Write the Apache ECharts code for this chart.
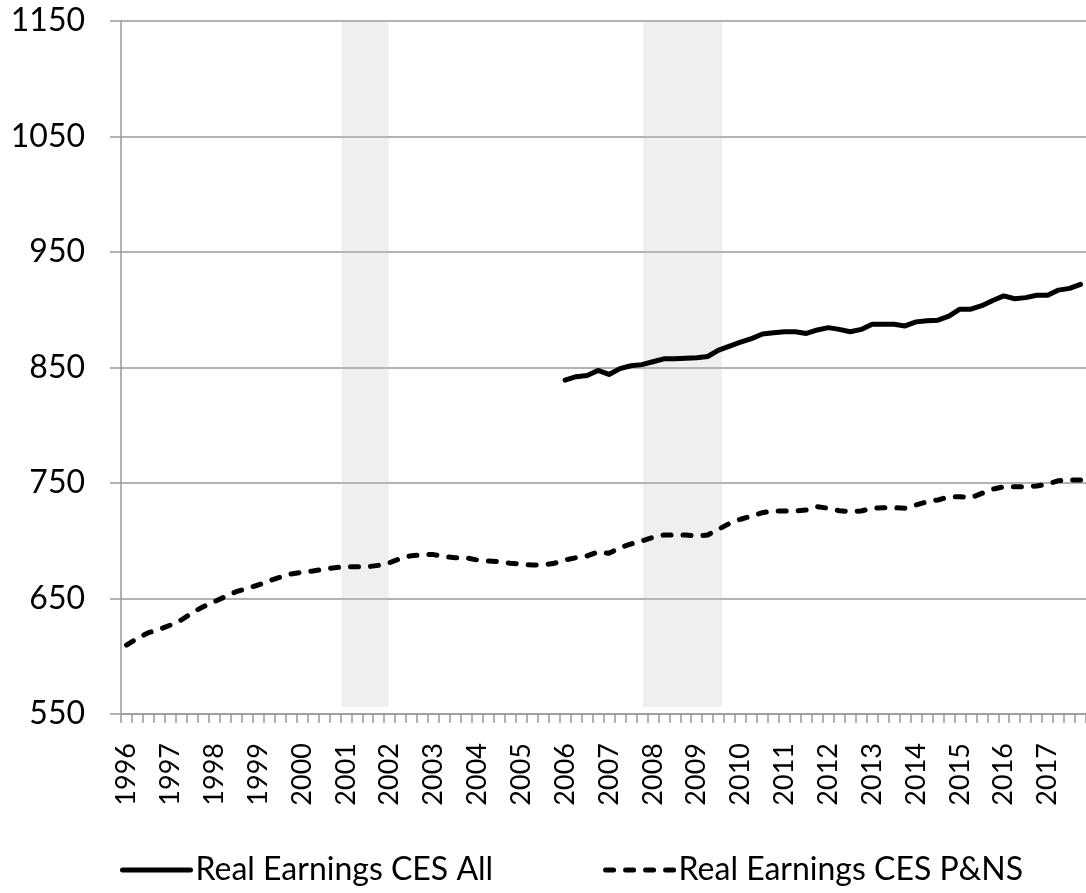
<!DOCTYPE html>
<html>
<head>
<meta charset="utf-8">
<script src="https://cdn.jsdelivr.net/npm/echarts@6/dist/echarts.min.js"></script>
<style>
html,body{margin:0;padding:0;background:#fff;}
#chart{width:1086px;height:893px;}
</style>
</head>
<body>
<div id="chart"></div>
<script>
// Years shown on the category axis (quarterly categories)
const years = [1996,1997,1998,1999,2000,2001,2002,2003,2004,2005,2006,2007,2008,2009,2010,2011,2012,2013,2014,2015,2016,2017];
const quarters = ['Q1','Q2','Q3','Q4'];
const categories = [];
years.forEach(y => quarters.forEach(q => categories.push(y + q)));

// Real Earnings CES All (starts 2006Q1)
const cesAllStart = '2006Q1';
const cesAllValues = [
  839, 842, 843, 847.5, 844, 849, 851.5, 852.5,
  855, 857.5, 857.5, 858, 858.5, 859.5, 865, 868.5,
  872, 875, 879, 880, 881, 881, 879.5, 882.5,
  884.5, 883, 881, 883, 887.5, 887.5, 887.5, 886,
  889.5, 890.5, 891, 894.5, 900.5, 900.5, 903.5, 908,
  912, 909.5, 910.5, 912.5, 912.5, 917, 918.5, 922
];

// Real Earnings CES P&NS (1996Q1 onward)
const cesPnsValues = [
  609.7, 615.5, 620.4, 623.3, 627, 631.4, 637.7, 642.9,
  647.2, 651.6, 655.9, 658.8, 661.7, 665.2, 668.4, 671.2,
  672.7, 673.8, 675.3, 676.7, 677.5, 677.5, 677.5, 678.7,
  681, 684.8, 687.1, 688, 688, 686.2, 685.3, 685.3,
  683.3, 682.5, 681.9, 680.5, 679.6, 679, 679, 680.5,
  683.3, 685.3, 686.8, 690.5, 689.1, 694, 697.2, 699.8,
  703, 705, 705, 705, 704.1, 705, 709.9, 715.1,
  718.6, 721.4, 724.3, 725.8, 725.8, 725.8, 726.6, 729.5,
  728.1, 726, 725.2, 725.8, 728.1, 728.6, 728.6, 728.1,
  731, 733.8, 735.3, 738.1, 738.1, 737.3, 741, 744.6,
  746.8, 746.8, 746.8, 747.4, 749.1, 752, 752.6, 752.6
];

// Recession shading, in fractional years [start, end]
const recessions = [[2001.03, 2002.1], [2007.9, 2009.7]];
const shadeBottom = 556;

// Y-axis
const yMin = 550, yMax = 1150, yStep = 100;

const startIdx = categories.indexOf(cesAllStart);
const cesAllSeries = categories.map((c, i) => i >= startIdx ? cesAllValues[i - startIdx] : null);

const chart = echarts.init(document.getElementById('chart'), null, {renderer: 'canvas'});
chart.setOption({
  animation: false,
  backgroundColor: '#ffffff',
  grid: {left: 121, right: -8, top: 21, bottom: 179, containLabel: false},
  legend: {
    left: 115, top: 849,
    itemWidth: 68, itemHeight: 5, itemGap: 110,
    itemStyle: {color: 'rgba(0,0,0,0)', borderWidth: 0},
    lineStyle: {width: 5, color: '#000'},
    textStyle: {fontFamily: 'Lato', fontSize: 32, color: '#000'},
    data: ['Real Earnings CES All', 'Real Earnings CES P&NS']
  },
  xAxis: [{
    type: 'category',
    data: categories,
    boundaryGap: true,
    axisLine: {lineStyle: {color: '#999', width: 1.5}},
    axisTick: {show: true, interval: 0, length: 9, lineStyle: {color: '#999', width: 1.5}},
    axisLabel: {
      interval: 3, rotate: 90, margin: 29,
      fontFamily: 'Lato', fontSize: 27, color: '#000',
      formatter: v => v.slice(0, 4)
    },
    splitLine: {show: false}
  }, {
    type: 'value',
    min: years[0],
    max: years[years.length - 1] + 1,
    show: false
  }],
  yAxis: {
    type: 'value',
    min: yMin, max: yMax, interval: yStep,
    axisLine: {show: true, lineStyle: {color: '#999', width: 1.5}},
    axisTick: {show: true, length: 11, lineStyle: {color: '#999', width: 1.5}},
    axisLabel: {margin: 36, fontFamily: 'Lato', fontSize: 32, color: '#000', formatter: v => String(v)},
    splitLine: {show: true, lineStyle: {color: '#999', width: 1.5}}
  },
  series: [{
    name: 'Real Earnings CES All',
    type: 'line',
    data: cesAllSeries,
    showSymbol: false, symbol: 'none',
    lineStyle: {color: '#000', width: 5, cap: 'round', join: 'round'},
    itemStyle: {color: '#000'},
    z: 2
  }, {
    name: 'Real Earnings CES P&NS',
    type: 'line',
    data: cesPnsValues,
    showSymbol: false, symbol: 'none',
    lineStyle: {color: '#000', width: 5, type: [8, 12], cap: 'round', join: 'round'},
    itemStyle: {color: '#000'},
    z: 2
  }, {
    name: 'recessions',
    type: 'line',
    xAxisIndex: 1,
    data: [],
    z: 5,
    silent: true,
    markArea: {
      silent: true,
      itemStyle: {color: 'rgba(194,194,194,0.26)'},
      data: recessions.map(r => [{xAxis: r[0], yAxis: shadeBottom}, {xAxis: r[1], yAxis: yMax}])
    }
  }]
});
</script>
</body>
</html>
